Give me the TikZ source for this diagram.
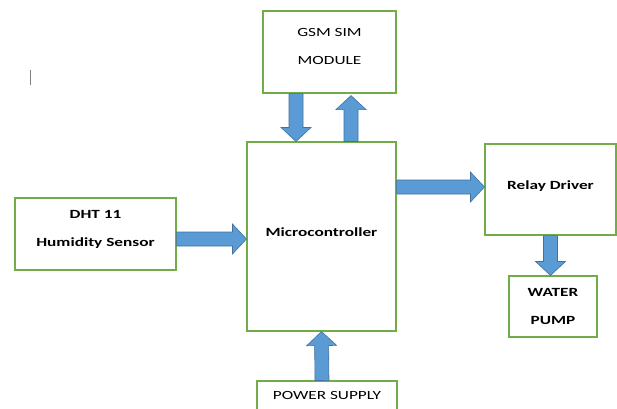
\documentclass[tikz,border=0pt]{standalone}
\usepackage{fontspec}
\setmainfont{Carlito}[FakeStretch=1.38]
\usetikzlibrary{calc}
\definecolor{boxgreen}{HTML}{70AD47}
\definecolor{arrowfill}{HTML}{5B9BD5}
\definecolor{arrowline}{HTML}{41719C}
\tikzset{
  block/.style={draw=boxgreen, line width=1.1pt, fill=white, align=center, inner sep=0pt,
    font=\fontsize{12.5}{15}\selectfont},
  boldblock/.style={block, font=\fontsize{12.5}{15}\selectfont\bfseries},
  arrowbody/.style={fill=arrowfill, draw=arrowline, line width=0.6pt, line join=miter}
}
% fat arrow from #1 to #2
\newcommand\fatarrow[2]{%
  \coordinate (fa-s) at (#1);
  \coordinate (fa-e) at (#2);
  \coordinate (fa-h) at ($(fa-e)!14pt!(fa-s)$);
  \filldraw[arrowbody] ($(fa-s)!7pt!90:(fa-e)$) -- ($(fa-h)!7pt!90:(fa-e)$)
    -- ($(fa-h)!15pt!90:(fa-e)$) -- (fa-e) -- ($(fa-h)!15pt!-90:(fa-e)$)
    -- ($(fa-h)!7pt!-90:(fa-e)$) -- ($(fa-s)!7pt!-90:(fa-e)$) -- cycle;
}
\begin{document}
\begin{tikzpicture}[x=1pt,y=-1pt]
\path[use as bounding box, clip] (0,0) rectangle (617,408);
\fill[white] (0,0) rectangle (617,408);

\node[block, minimum width=133, minimum height=82, text depth=12pt] (gsm) at (329.5,52) {GSM SIM\\[13pt]MODULE};
\node[boldblock, minimum width=149, minimum height=189, text depth=9pt] (mcu) at (321.5,236.5) {Microcontroller};
\node[boldblock, minimum width=161, minimum height=72, text depth=12pt] (dht) at (95.5,234) {DHT 11\\[13pt]Humidity Sensor};
\node[boldblock, minimum width=131, minimum height=91, text depth=9pt] (relay) at (550.5,189.5) {Relay Driver};
\node[boldblock, minimum width=88, minimum height=61] (pump) at (553,306.5) {WATER\\[13pt]PUMP};
\node[block, minimum width=140, minimum height=34, text depth=6pt] (power) at (327,398) {POWER SUPPLY};

\draw[gray, line width=0.8pt] (30,70) -- (30,85);

\fatarrow{$(gsm.south)+(-33.5,0)$}{$(mcu.north)+(-25.5,0)$}
\fatarrow{$(mcu.north)+(29.5,0)$}{$(gsm.south)+(21.5,2)$}
\fatarrow{$(dht.east)+(0,5)$}{$(mcu.west)+(0,2.5)$}
\fatarrow{$(mcu.east)+(0,-49.5)$}{$(relay.west)+(0,-2.5)$}
\fatarrow{relay.south}{$(pump.north)+(-2.5,0)$}
\fatarrow{$(power.north)+(-5,0)$}{mcu.south}

\end{tikzpicture}
\end{document}
